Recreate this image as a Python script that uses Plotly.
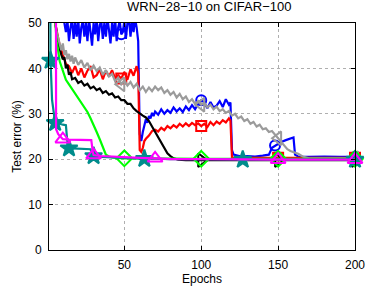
import plotly.graph_objects as go

# ---------------- data ----------------
blue_x = [1, 5, 10, 12, 13, 14, 15, 16, 17, 18, 19, 20, 21, 22, 23, 24, 25, 26, 27, 28, 29, 30,
          31, 32, 33, 34, 35, 36, 37, 38, 39, 40, 41, 42, 43, 44, 45, 46, 47, 48, 49, 50, 51, 52,
          53, 54, 55, 56, 57, 58, 59, 60, 61, 62, 63, 64, 65, 66, 67, 68, 69, 70, 72, 74, 76, 78,
          80, 82, 84, 86, 88, 90, 92, 94, 96, 98, 100, 102, 104, 106, 108, 110, 112, 114, 116, 118,
          119, 120, 121, 123, 126, 130, 135, 140, 144, 146, 148, 152, 155, 158, 160, 161, 163, 170,
          180, 190, 200]
blue_y = [58, 55, 52, 48, 50.5, 46, 49, 51, 46.5, 50, 47, 51, 45.5, 49, 50.5, 47, 50, 46, 51, 48,
          45, 50, 47.5, 51, 46, 49.5, 50.5, 46.5, 50, 47, 51, 48.5, 45.5, 50, 47, 51, 46, 49, 50.5,
          47.5, 48, 50.5, 46.5, 50, 51, 47, 50.5, 48, 51, 49, 46, 25.5, 24, 26, 27.5, 28.8, 28, 29.5,
          29, 30.2, 29.5, 30.5, 29.8, 31, 30, 30.8, 30.2, 31.4, 30.5, 31.2, 30.4, 31.6, 30.8, 31.9,
          31, 32.2, 33, 32.5, 31.2, 32.6, 31.4, 31.8, 32.8, 31.5, 33.2, 32, 32.5, 22, 21, 20.8, 20.6,
          20.7, 20.6, 20.8, 21, 22.5, 23, 23.8, 24.2, 24.5, 24.8, 21, 20.6, 20.5, 20.6, 20.5, 20.5]
blue_mk = [48, 100, 148, 200]

red_x = [1, 5, 8, 10, 12, 14, 16, 18, 20, 22, 24, 26, 28, 30, 32, 34, 36, 38, 40, 42, 44, 46, 48,
         50, 52, 54, 56, 58, 59, 60, 61, 62, 63, 64, 66, 68, 70, 72, 74, 76, 78, 80, 82, 84, 86, 88,
         90, 92, 94, 96, 98, 100, 102, 104, 106, 108, 110, 112, 114, 116, 118, 119, 120, 125, 140,
         150, 170, 200]
red_y = [60, 50, 45, 43, 41, 40.5, 39, 40.5, 38.5, 40, 38, 39.5, 40.5, 38, 38.5, 39.8, 37.6, 39.5,
         38.2, 39.6, 37.8, 38.5, 37.8, 39.2, 37.5, 39.8, 38.4, 40.5, 39, 22, 21.6, 22.5, 24, 24.5,
         25.2, 26.2, 26.5, 26.1, 26.9, 26.4, 27.3, 26.8, 27.5, 27, 27.8, 27.2, 27.9, 27.3, 28, 27.5,
         27.9, 27.3, 27.8, 27.1, 28.2, 27.5, 28.3, 27.8, 28.6, 28.1, 29, 28.5, 20.4, 20.3, 20.3,
         20.3, 20.3, 20.3]
red_mk = [48, 100, 150, 200]

black_x = [1, 5, 7, 9, 10, 11, 12, 13, 14, 15, 16, 18, 20, 22, 24, 26, 28, 30, 32, 34, 36, 38, 40,
           42, 44, 46, 48, 50, 52, 54, 56, 58, 60, 62, 64, 66, 68, 70, 72, 74, 76, 78, 80, 82, 85,
           90, 100, 150, 200]
black_y = [60, 50, 45.5, 43, 42, 42.5, 40, 40.8, 38.6, 39.2, 37.6, 37.9, 36.8, 37.2, 36.2, 36.6,
           35.6, 36, 35.2, 35.6, 34.6, 35, 34.2, 34.5, 33.6, 33.8, 33, 33, 32.2, 32.2, 31.2, 30.6,
           30, 29.6, 29.2, 28.4, 27.2, 26, 24.8, 23.4, 22.2, 21.3, 20.7, 20.2, 19.9, 19.8, 19.8,
           19.8, 19.8]
black_mk = [100, 150, 200]

gray_x = [1, 4, 6, 8, 9, 10, 11, 12, 13, 14, 15, 16, 17, 18, 20, 22, 24, 26, 28, 30, 32, 34, 36,
          38, 40, 42, 44, 46, 48, 50, 52, 54, 56, 58, 60, 62, 64, 66, 68, 70, 72, 74, 76, 78, 80,
          82, 84, 86, 88, 90, 92, 94, 96, 98, 100, 102, 104, 106, 108, 110, 112, 114, 116, 118, 120,
          122, 124, 126, 128, 130, 132, 134, 136, 138, 140, 142, 144, 146, 148, 150, 152, 154, 156,
          158, 160, 163, 166, 170, 180, 200]
gray_y = [60, 52, 48, 45, 44, 45.5, 43, 44, 42, 43.2, 41.5, 42.8, 41, 42.4, 40.8, 41.8, 40.2, 41.2,
          39.6, 40.6, 39.4, 40.2, 38.6, 39.6, 38.2, 38.8, 37.2, 38, 36.5, 37.4, 36.2, 37, 35.8,
          36.6, 35.2, 36, 34.8, 35.8, 35, 36, 35.2, 35.8, 34.6, 35.2, 34.2, 34.8, 33.6, 34.4, 33.2,
          33.8, 32.6, 33.2, 32.2, 32.8, 32, 32.4, 31.4, 32, 31, 31.6, 30.6, 31, 30.2, 30.6, 29.6,
          30, 29, 29.4, 28.4, 28.8, 27.8, 28.2, 27.2, 27.6, 26.6, 26.8, 26, 26.2, 25.4, 24.6, 23.6,
          22.8, 22.2, 21.8, 21.6, 21.2, 20.6, 20.2, 20.2, 20.2]
gray_mk = [48, 100, 150, 200]

green_x = [3, 6, 8, 10, 12, 14, 16, 18, 20, 22, 24, 26, 28, 30, 32, 34, 36, 37, 38, 40, 42, 45,
           50, 60, 80, 100, 150, 200]
green_y = [60, 46, 41.5, 39.5, 37.5, 36.5, 35.5, 34.4, 33.4, 32.6, 31.4, 30.4, 29, 27.6, 26, 24.4,
           22.5, 21.5, 21, 20.6, 20.4, 20.3, 20.2, 20.2, 20.1, 20.1, 20.1, 20.1]
green_mk = [50, 100, 150, 200]

teal_x = [1.7, 2, 3, 5, 6, 8, 10, 12, 13, 14, 16, 20, 24, 28, 29, 30, 35, 40, 50, 60, 63, 70, 80,
          100, 127, 150, 200]
teal_y = [70, 41.7, 33, 28, 27.8, 27.8, 27.6, 27.5, 23.5, 22.4, 22.4, 22.3, 22.3, 22.2, 21, 20.7,
          20.5, 20.4, 20.3, 20.2, 20.1, 20.1, 20.0, 20.0, 19.9, 19.9, 19.9]
teal_mk = [2, 5, 14, 30, 63, 127, 200]

mag_x = [5.5, 5.6, 7, 10, 14, 18, 22, 26, 28.5, 29.5, 30, 35, 40, 50, 60, 70, 80, 100, 120, 150, 200]
mag_y = [70, 26.6, 25.5, 24.4, 24.3, 24.3, 24.3, 24.2, 24.2, 21.5, 20.9, 20.7, 20.6, 20.5, 20.3,
         20.2, 20.0, 20.0, 19.9, 19.9, 19.9]
mag_mk = [10, 30, 70, 150, 200]

x_ticks = [50, 100, 150, 200]
y_ticks = [0, 10, 20, 30, 40, 50]

series = [
    (blue_x, blue_y, blue_mk, "rgb(0,0,255)", "circle-open", 10),
    (red_x, red_y, red_mk, "rgb(255,0,0)", "square-open", 10),
    (black_x, black_y, black_mk, "rgb(0,0,0)", "triangle-right-open", 12),
    (gray_x, gray_y, gray_mk, "rgb(155,155,155)", "triangle-left-open", 12),
    (green_x, green_y, green_mk, "rgb(0,255,0)", "diamond-open", 12),
    (teal_x, teal_y, teal_mk, "rgb(0,140,140)", "star", 13),
    (mag_x, mag_y, mag_mk, "rgb(255,0,255)", "triangle-up-open", 13),
]

fig = go.Figure()
for xs, ys, mk, col, sym, sz in series:
    fig.add_trace(go.Scatter(x=xs, y=ys, mode="lines",
                             line=dict(color=col, width=2.2), showlegend=False,
                             hoverinfo="skip"))
    mx = [x for x in mk]
    my = [ys[xs.index(x)] for x in mk]
    fig.add_trace(go.Scatter(x=mx, y=my, mode="markers",
                             marker=dict(symbol=sym, size=sz, color=col,
                                         line=dict(color=col, width=2)),
                             showlegend=False, hoverinfo="skip", cliponaxis=False))

font_family = "Liberation Sans, Arial, Helvetica, sans-serif"
fig.update_layout(
    width=377, height=294,
    margin=dict(l=49, r=15, t=23, b=36),
    paper_bgcolor="white", plot_bgcolor="white",
    font=dict(family=font_family, size=12, color="black"),
    title=dict(text="WRN\u221228\u221210 on CIFAR\u2212100", x=0.555, xanchor="center",
               y=0.993, yanchor="top", font=dict(size=13, color="black")),
    showlegend=False,
    hovermode=False,
)
fig.update_xaxes(
    range=[1, 200], tickvals=x_ticks, ticktext=[str(v) for v in x_ticks],
    showgrid=True, gridcolor="rgb(175,175,175)", griddash="dot", gridwidth=1,
    zeroline=False, showline=True, linecolor="black", linewidth=1, mirror="ticks",
    ticks="inside", ticklen=4, tickcolor="black", ticklabelstandoff=4,
    title=dict(text="Epochs", standoff=1, font=dict(size=12)),
)
fig.update_yaxes(
    range=[0, 50], tickvals=y_ticks, ticktext=[str(v) for v in y_ticks],
    showgrid=True, gridcolor="rgb(175,175,175)", griddash="dot", gridwidth=1,
    zeroline=False, showline=True, linecolor="black", linewidth=1, mirror="ticks",
    ticks="inside", ticklen=4, tickcolor="black", ticklabelstandoff=4,
    title=dict(text="Test error (%)", standoff=4, font=dict(size=12)),
)

# remove the browser's default 8px page margin so the 377x294 figure fills the window
fig.write_html("out.html", config={"displayModeBar": False, "staticPlot": True},
               post_script="document.body.style.margin='0px';")
